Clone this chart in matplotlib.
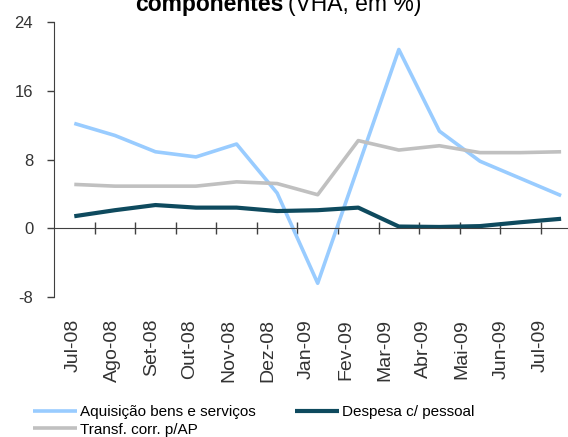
import numpy as np
import matplotlib
matplotlib.use("Agg")
import matplotlib.pyplot as plt

# data (VHA, %)
meses = ["Jul-08", "Ago-08", "Set-08", "Out-08", "Nov-08", "Dez-08", "Jan-09",
         "Fev-09", "Mar-09", "Abr-09", "Mai-09", "Jun-09", "Jul-09"]
aquisicao = [12.2, 10.8, 8.9, 8.3, 9.8, 4.1, -6.4, 7.2, 20.8, 11.3, 7.8, 5.8, 3.8]
despesa_pessoal = [1.4, 2.1, 2.7, 2.4, 2.4, 2.0, 2.1, 2.4, 0.2, 0.15, 0.25, 0.7, 1.1]
transf_corr = [5.1, 4.9, 4.9, 4.9, 5.4, 5.2, 3.9, 10.2, 9.1, 9.6, 8.8, 8.8, 8.9]
y_ticks = [-8, 0, 8, 16, 24]

x = np.arange(len(meses))

fig = plt.figure(figsize=(5.68, 4.37), dpi=100)
ax = fig.add_axes([54 / 568, 140 / 437, 1 - 54 / 568, 275 / 437])

ax.plot(x, aquisicao, color="#99ccff", lw=2.6, label="Aquisição bens e serviços", solid_capstyle="butt")
ax.plot(x, despesa_pessoal, color="#0e4a5e", lw=3.0, label="Despesa c/ pessoal", solid_capstyle="butt")
ax.plot(x, transf_corr, color="#c0c0c0", lw=2.6, label="Transf. corr. p/AP", solid_capstyle="butt")

ax.set_xlim(-0.5, 12.17)
ax.set_ylim(-8, 24)

# axis look
for s in ["top", "right"]:
    ax.spines[s].set_visible(False)
ax.spines["left"].set_color("#404040")
ax.spines["bottom"].set_color("#404040")
ax.spines["bottom"].set_position(("data", 0))

ax.set_yticks(y_ticks)
ax.set_yticklabels([str(v) for v in y_ticks], family="Liberation Sans",
                   fontsize=12, color="#333333")
ax.tick_params(axis="y", length=5, width=1, color="#404040", pad=10)

# tick marks on category boundaries, labels drawn at the bottom of the plot
ax.set_xticks(x[:-1] + 0.5)
ax.set_xticklabels([])
ax.tick_params(axis="x", direction="inout", length=8, width=1, color="#404040")

lab_x = x * 0.958 - 0.02
for xi, m in zip(lab_x, meses):
    ax.text(xi, -0.08, m, transform=ax.get_xaxis_transform(), rotation=90,
            ha="center", va="top", fontsize=14, family="Liberation Sans", color="#333333")

# title, cut at the top of the image
fig.text(283 / 568, 1 - 11 / 437, "componentes", fontsize=16.5, fontweight="bold",
         family="Liberation Sans", ha="right", va="baseline")
fig.text(288 / 568, 1 - 11 / 437, "(VHA, em %)", fontsize=16.5,
         family="Liberation Sans", ha="left", va="baseline")

h, l = ax.get_legend_handles_labels()
order = [0, 2, 1]
ax.legend([h[i] for i in order], [l[i] for i in order], ncol=2, frameon=False,
          loc="upper left", bbox_to_anchor=(33 / 568, 1 - 405 / 437),
          bbox_transform=fig.transFigure, prop={"family": "Liberation Sans", "size": 11},
          handlelength=2.9, handletextpad=0.15, columnspacing=2.6, labelspacing=0.25,
          borderpad=0, borderaxespad=0)

fig.savefig("out.png", dpi=100)
